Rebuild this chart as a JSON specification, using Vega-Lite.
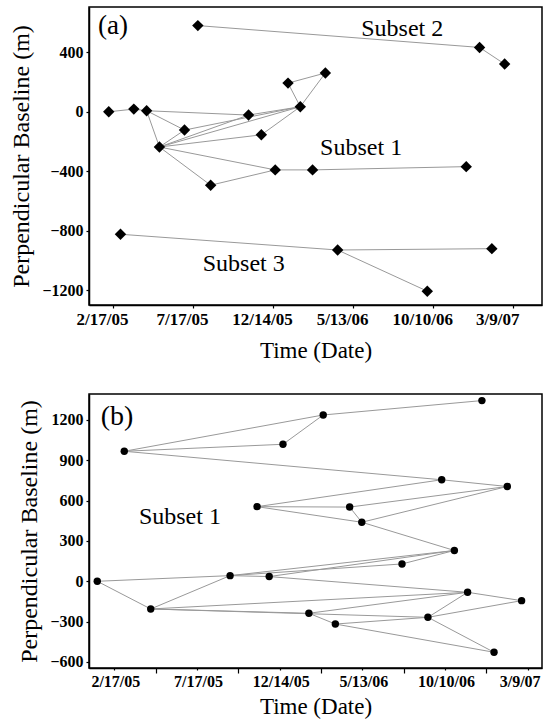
{
  "$schema": "https://vega.github.io/schema/vega-lite/v6.json",
  "background": "white",
  "padding": {"left": 9, "top": 6, "right": 5, "bottom": 2},
  "config": {
    "view": {"stroke": "black", "strokeWidth": 1.5},
    "axis": {
      "grid": false, "domainColor": "black", "domainWidth": 1.5,
      "tickColor": "black", "tickSize": 3, "tickWidth": 1.2,
      "labelFont": "Liberation Serif", "labelFontWeight": "bold", "labelFontSize": 16, "labelColor": "black", "labelPadding": 3,
      "titleFont": "Liberation Serif", "titleFontWeight": "normal", "titleFontSize": 23, "titleColor": "black"
    },
    "concat": {"spacing": 30}
  },
  "vconcat": [
    {
      "width": 453, "height": 298,
      "encoding": {
        "x": {"field": "date", "type": "temporal", "title": "Time (Date)",
          "scale": {"type": "utc", "domain": [{"year": 2005, "month": 1, "date": 3, "utc": true}, {"year": 2007, "month": 5, "date": 2, "utc": true}]},
          "axis": {"values": [
            {"year": 2005, "month": 2, "date": 17, "utc": true},
            {"year": 2005, "month": 7, "date": 17, "utc": true},
            {"year": 2005, "month": 12, "date": 14, "utc": true},
            {"year": 2006, "month": 5, "date": 13, "utc": true},
            {"year": 2006, "month": 10, "date": 10, "utc": true},
            {"year": 2007, "month": 3, "date": 9, "utc": true}],
            "labelExpr": "utcFormat(datum.value, '%-m/%-d/%y')",
            "labelFontSize": 17,
            "labelOffset": {"condition": {"test": "utcyear(datum.value) == 2007", "value": -16}, "value": -11},
            "titlePadding": 12}},
        "y": {"field": "bl", "type": "quantitative", "title": "Perpendicular Baseline (m)",
          "scale": {"domain": [-1300, 705], "nice": false, "zero": false},
          "axis": {"values": [-1200, -800, -400, 0, 400], "format": "d", "titlePadding": 8, "titleFontSize": 24}}
      },
      "layer": [
        {
          "data": {"values": [
            {"date": "2005-07-26", "bl": 580, "date2": "2007-01-05", "bl2": 433},
            {"date": "2007-01-05", "bl": 433, "date2": "2007-02-21", "bl2": 321},
            {"date": "2005-02-09", "bl": 0, "date2": "2005-03-28", "bl2": 18},
            {"date": "2005-03-28", "bl": 18, "date2": "2005-04-21", "bl2": 7},
            {"date": "2005-04-21", "bl": 7, "date2": "2005-10-29", "bl2": -22},
            {"date": "2005-04-21", "bl": 7, "date2": "2005-07-01", "bl2": -123},
            {"date": "2005-04-21", "bl": 7, "date2": "2005-05-15", "bl2": -237},
            {"date": "2005-07-01", "bl": -123, "date2": "2005-05-15", "bl2": -237},
            {"date": "2005-05-15", "bl": -237, "date2": "2005-10-29", "bl2": -22},
            {"date": "2005-05-15", "bl": -237, "date2": "2006-02-03", "bl2": 34},
            {"date": "2005-05-15", "bl": -237, "date2": "2005-11-22", "bl2": -155},
            {"date": "2005-07-01", "bl": -123, "date2": "2006-02-03", "bl2": 34},
            {"date": "2005-10-29", "bl": -22, "date2": "2006-02-03", "bl2": 34},
            {"date": "2005-11-22", "bl": -155, "date2": "2006-02-03", "bl2": 34},
            {"date": "2006-02-03", "bl": 34, "date2": "2006-01-11", "bl2": 193},
            {"date": "2006-02-03", "bl": 34, "date2": "2006-03-22", "bl2": 261},
            {"date": "2006-01-11", "bl": 193, "date2": "2006-03-22", "bl2": 261},
            {"date": "2005-05-15", "bl": -237, "date2": "2005-08-19", "bl2": -494},
            {"date": "2005-05-15", "bl": -237, "date2": "2005-12-18", "bl2": -391},
            {"date": "2005-08-19", "bl": -494, "date2": "2005-12-18", "bl2": -391},
            {"date": "2005-12-18", "bl": -391, "date2": "2006-02-26", "bl2": -391},
            {"date": "2006-02-26", "bl": -391, "date2": "2006-12-11", "bl2": -369},
            {"date": "2005-03-03", "bl": -824, "date2": "2006-04-14", "bl2": -930},
            {"date": "2006-04-14", "bl": -930, "date2": "2007-01-28", "bl2": -921},
            {"date": "2006-04-14", "bl": -930, "date2": "2006-09-29", "bl2": -1207}
          ]},
          "mark": {"type": "rule", "color": "#999999", "strokeWidth": 1},
          "encoding": {"x2": {"field": "date2"}, "y2": {"field": "bl2"}}
        },
        {
          "data": {"values": [
            {"date": "2005-07-26", "bl": 580}, {"date": "2007-01-05", "bl": 433}, {"date": "2007-02-21", "bl": 321},
            {"date": "2006-01-11", "bl": 193}, {"date": "2006-03-22", "bl": 261}, {"date": "2005-02-09", "bl": 0},
            {"date": "2005-03-28", "bl": 18}, {"date": "2005-04-21", "bl": 7}, {"date": "2005-10-29", "bl": -22},
            {"date": "2006-02-03", "bl": 34}, {"date": "2005-07-01", "bl": -123}, {"date": "2005-11-22", "bl": -155},
            {"date": "2005-05-15", "bl": -237}, {"date": "2005-08-19", "bl": -494}, {"date": "2005-12-18", "bl": -391},
            {"date": "2006-02-26", "bl": -391}, {"date": "2006-12-11", "bl": -369}, {"date": "2005-03-03", "bl": -824},
            {"date": "2006-04-14", "bl": -930}, {"date": "2007-01-28", "bl": -921}, {"date": "2006-09-29", "bl": -1207}
          ]},
          "mark": {"type": "point", "shape": "diamond", "filled": true, "color": "black", "size": 130, "opacity": 1}
        },
        {
          "data": {"values": [{"date": "2005-02-17", "bl": 580, "label": "(a)"}]},
          "mark": {"type": "text", "font": "Liberation Serif", "fontSize": 27, "color": "black", "align": "center", "baseline": "middle"},
          "encoding": {"text": {"field": "label"}}
        },
        {
          "data": {"values": [
            {"date": "2006-08-13", "bl": 559, "label": "Subset 2"},
            {"date": "2006-05-28", "bl": -243, "label": "Subset 1"},
            {"date": "2005-10-20", "bl": -1024, "label": "Subset 3"}
          ]},
          "mark": {"type": "text", "font": "Liberation Serif", "fontSize": 24, "color": "black", "align": "center", "baseline": "middle"},
          "encoding": {"text": {"field": "label"}}
        }
      ]
    },
    {
      "width": 453, "height": 274,
      "encoding": {
        "x": {"field": "date", "type": "temporal", "title": "Time (Date)",
          "scale": {"type": "utc", "domain": [{"year": 2005, "month": 1, "date": 2, "utc": true}, {"year": 2007, "month": 4, "date": 4, "utc": true}]},
          "axis": {"values": [
            {"year": 2005, "month": 2, "date": 17, "utc": true},
            {"year": 2005, "month": 5, "date": 3, "utc": true},
            {"year": 2005, "month": 7, "date": 17, "utc": true},
            {"year": 2005, "month": 9, "date": 30, "utc": true},
            {"year": 2005, "month": 12, "date": 14, "utc": true},
            {"year": 2006, "month": 2, "date": 27, "utc": true},
            {"year": 2006, "month": 5, "date": 13, "utc": true},
            {"year": 2006, "month": 7, "date": 27, "utc": true},
            {"year": 2006, "month": 10, "date": 10, "utc": true},
            {"year": 2006, "month": 12, "date": 24, "utc": true},
            {"year": 2007, "month": 3, "date": 9, "utc": true}],
            "labelExpr": "indexof([3, 30, 27, 24], utcdate(datum.value)) >= 0 ? '' : utcFormat(datum.value, '%-m/%-d/%y')",
            "labelOffset": {"condition": {"test": "utcyear(datum.value) == 2007", "value": -8}, "value": 1},
            "tickSize": {"condition": {"test": "indexof([3, 30, 27, 24], utcdate(datum.value)) >= 0", "value": 5}, "value": 2},
            "titlePadding": 6}},
        "y": {"field": "bl", "type": "quantitative", "title": "Perpendicular Baseline (m)",
          "scale": {"domain": [-645, 1393], "nice": false, "zero": false},
          "axis": {"values": [-600, -300, 0, 300, 600, 900, 1200], "format": "d", "titlePadding": 8, "titleFontSize": 24}}
      },
      "layer": [
        {
          "data": {"values": [
            {"date": "2005-03-07", "bl": 967, "date2": "2005-12-20", "bl2": 1019},
            {"date": "2005-03-07", "bl": 967, "date2": "2006-03-03", "bl2": 1237},
            {"date": "2005-12-20", "bl": 1019, "date2": "2006-03-03", "bl2": 1237},
            {"date": "2006-03-03", "bl": 1237, "date2": "2006-12-16", "bl2": 1344},
            {"date": "2005-03-07", "bl": 967, "date2": "2006-10-04", "bl2": 755},
            {"date": "2006-10-04", "bl": 755, "date2": "2007-01-31", "bl2": 705},
            {"date": "2005-11-03", "bl": 555, "date2": "2006-10-04", "bl2": 755},
            {"date": "2005-11-03", "bl": 555, "date2": "2006-04-20", "bl2": 552},
            {"date": "2005-11-03", "bl": 555, "date2": "2006-05-12", "bl2": 439},
            {"date": "2006-04-20", "bl": 552, "date2": "2006-05-12", "bl2": 439},
            {"date": "2006-04-20", "bl": 552, "date2": "2007-01-31", "bl2": 705},
            {"date": "2006-05-12", "bl": 439, "date2": "2007-01-31", "bl2": 705},
            {"date": "2006-05-12", "bl": 439, "date2": "2006-10-27", "bl2": 229},
            {"date": "2006-10-27", "bl": 229, "date2": "2006-07-24", "bl2": 129},
            {"date": "2005-09-15", "bl": 42, "date2": "2006-10-27", "bl2": 229},
            {"date": "2005-09-15", "bl": 42, "date2": "2006-07-24", "bl2": 129},
            {"date": "2005-11-25", "bl": 35, "date2": "2006-10-27", "bl2": 229},
            {"date": "2005-01-17", "bl": 0, "date2": "2005-09-15", "bl2": 42},
            {"date": "2005-01-17", "bl": 0, "date2": "2005-04-24", "bl2": -206},
            {"date": "2005-04-24", "bl": -206, "date2": "2005-09-15", "bl2": 42},
            {"date": "2005-09-15", "bl": 42, "date2": "2005-11-25", "bl2": 35},
            {"date": "2005-11-25", "bl": 35, "date2": "2006-11-20", "bl2": -82},
            {"date": "2005-04-24", "bl": -206, "date2": "2006-11-20", "bl2": -82},
            {"date": "2005-04-24", "bl": -206, "date2": "2006-02-05", "bl2": -238},
            {"date": "2005-04-24", "bl": -206, "date2": "2006-09-09", "bl2": -268},
            {"date": "2006-02-05", "bl": -238, "date2": "2006-03-25", "bl2": -318},
            {"date": "2006-02-05", "bl": -238, "date2": "2006-11-20", "bl2": -82},
            {"date": "2006-03-25", "bl": -318, "date2": "2006-09-09", "bl2": -268},
            {"date": "2006-03-25", "bl": -318, "date2": "2007-01-07", "bl2": -528},
            {"date": "2006-09-09", "bl": -268, "date2": "2006-11-20", "bl2": -82},
            {"date": "2006-09-09", "bl": -268, "date2": "2007-02-26", "bl2": -144},
            {"date": "2006-09-09", "bl": -268, "date2": "2007-01-07", "bl2": -528},
            {"date": "2006-11-20", "bl": -82, "date2": "2007-02-26", "bl2": -144}
          ]},
          "mark": {"type": "rule", "color": "#999999", "strokeWidth": 1},
          "encoding": {"x2": {"field": "date2"}, "y2": {"field": "bl2"}}
        },
        {
          "data": {"values": [
            {"date": "2005-03-07", "bl": 967}, {"date": "2005-12-20", "bl": 1019}, {"date": "2006-03-03", "bl": 1237},
            {"date": "2006-12-16", "bl": 1344}, {"date": "2006-10-04", "bl": 755}, {"date": "2007-01-31", "bl": 705},
            {"date": "2005-11-03", "bl": 555}, {"date": "2006-04-20", "bl": 552}, {"date": "2006-05-12", "bl": 439},
            {"date": "2006-10-27", "bl": 229}, {"date": "2006-07-24", "bl": 129}, {"date": "2005-01-17", "bl": 0},
            {"date": "2005-09-15", "bl": 42}, {"date": "2005-11-25", "bl": 35}, {"date": "2005-04-24", "bl": -206},
            {"date": "2006-11-20", "bl": -82}, {"date": "2007-02-26", "bl": -144}, {"date": "2006-02-05", "bl": -238},
            {"date": "2006-03-25", "bl": -318}, {"date": "2006-09-09", "bl": -268}, {"date": "2007-01-07", "bl": -528}
          ]},
          "mark": {"type": "circle", "color": "black", "size": 55, "opacity": 1}
        },
        {
          "data": {"values": [{"date": "2005-02-22", "bl": 1220, "label": "(b)"}]},
          "mark": {"type": "text", "font": "Liberation Serif", "fontSize": 28, "color": "black", "align": "center", "baseline": "middle"},
          "encoding": {"text": {"field": "label"}}
        },
        {
          "data": {"values": [{"date": "2005-06-16", "bl": 476, "label": "Subset 1"}]},
          "mark": {"type": "text", "font": "Liberation Serif", "fontSize": 24, "color": "black", "align": "center", "baseline": "middle"},
          "encoding": {"text": {"field": "label"}}
        }
      ]
    }
  ]
}
